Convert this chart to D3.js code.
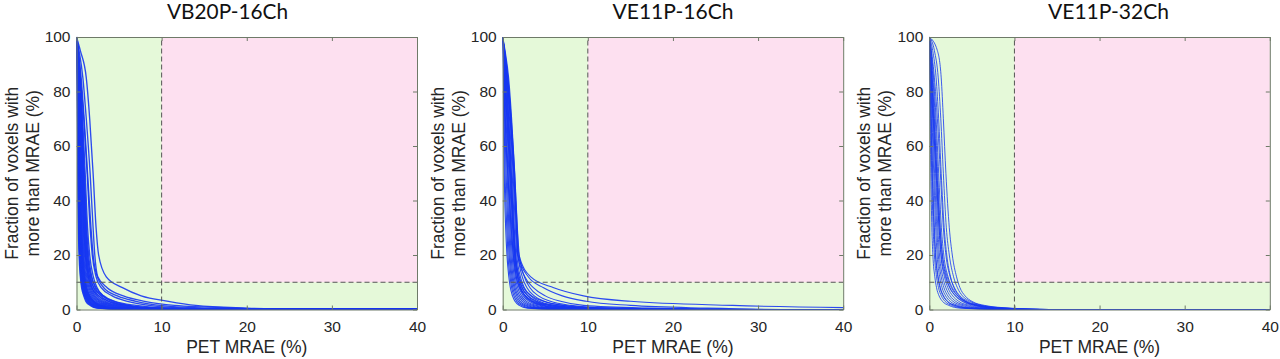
<!DOCTYPE html>
<html>
<head>
<meta charset="utf-8">
<script src="https://cdn.jsdelivr.net/npm/d3@7/dist/d3.min.js"></script>
<style>
  html, body { margin: 0; padding: 0; background: #ffffff; }
  svg { display: block; }
</style>
</head>
<body>
<svg id="chart" width="1280" height="359"></svg>
<script>
// ---------- DATA ----------
// Panel titles
const titles = ["VB20P-16Ch", "VE11P-16Ch", "VE11P-32Ch"];
// Axis ticks
const xTicks = [0, 10, 20, 30, 40];
const yTicks = [0, 20, 40, 60, 80, 100];
const xLabel = "PET MRAE (%)";
const yLabelLines = ["Fraction of voxels with", "more than MRAE (%)"];
// Threshold lines (MRAE 10 %, fraction 10 %)
const thresholdX = 10;
const thresholdY = 10;
// Fraction levels (%) at which each curve's MRAE (x) was read
const levels = [100, 95, 85, 70, 50, 30, 20, 12, 8, 5, 3, 1.5, 0.5, 0];

// MRAE (%) at each level, one row per subject curve
const curvesVB20P16 = [
  [0,0.03,0.06,0.10,0.15,0.22,0.30,0.45,0.60,0.85,1.10,1.60,2.4,6],
  [0,0.03,0.07,0.12,0.18,0.26,0.35,0.50,0.66,0.92,1.20,1.72,2.6,6.5],
  [0,0.04,0.08,0.13,0.20,0.28,0.38,0.55,0.72,0.98,1.30,1.85,2.8,7],
  [0,0.04,0.09,0.15,0.23,0.32,0.42,0.60,0.77,1.04,1.38,1.95,3.0,7.5],
  [0,0.05,0.10,0.16,0.25,0.35,0.46,0.65,0.82,1.10,1.45,2.05,3.1,8],
  [0,0.05,0.11,0.18,0.28,0.39,0.50,0.70,0.87,1.16,1.52,2.18,3.3,8.5],
  [0,0.06,0.12,0.20,0.30,0.42,0.54,0.74,0.92,1.22,1.60,2.30,3.5,9],
  [0,0.06,0.13,0.22,0.33,0.46,0.58,0.78,0.97,1.28,1.70,2.42,3.7,9.5],
  [0,0.07,0.14,0.24,0.36,0.50,0.62,0.82,1.02,1.35,1.80,2.55,3.9,10],
  [0,0.07,0.15,0.26,0.39,0.53,0.66,0.87,1.07,1.42,1.88,2.68,4.1,10.5],
  [0,0.08,0.17,0.28,0.42,0.57,0.70,0.92,1.12,1.48,1.95,2.80,4.3,11],
  [0,0.08,0.18,0.30,0.45,0.60,0.74,0.96,1.17,1.54,2.02,2.90,4.45,11.5],
  [0,0.09,0.20,0.32,0.48,0.64,0.78,1.00,1.22,1.60,2.10,3.00,4.6,12],
  [0,0.10,0.23,0.37,0.54,0.72,0.86,1.10,1.34,1.75,2.30,3.30,5.0,13],
  [0,0.12,0.26,0.42,0.60,0.80,0.95,1.20,1.46,1.90,2.50,3.60,5.5,14],
  [0,0.13,0.29,0.47,0.67,0.88,1.04,1.30,1.58,2.05,2.70,3.90,6.0,15],
  [0,0.15,0.32,0.52,0.74,0.96,1.12,1.40,1.70,2.20,2.90,4.20,6.5,16],
  [0,0.16,0.35,0.56,0.80,1.04,1.22,1.52,1.84,2.38,3.15,4.55,7.0,17],
  [0,0.18,0.38,0.61,0.87,1.12,1.32,1.65,2.00,2.60,3.40,4.90,7.6,18],
  [0,0.20,0.42,0.66,0.94,1.20,1.42,1.80,2.20,2.85,3.75,5.30,8.2,19],
  [0,0.22,0.46,0.72,1.02,1.30,1.55,1.98,2.42,3.15,4.10,5.80,9.0,20],
  [0,0.10,0.30,0.55,0.82,1.10,1.30,1.75,2.30,3.20,4.40,6.20,9.5,20],
  [0,0.05,0.15,0.30,0.55,0.85,1.05,1.40,1.80,2.60,3.80,5.80,9.0,18],
  [0,0.12,0.25,0.45,0.70,0.95,1.15,1.55,2.05,3.00,4.50,7.00,10.5,22],
  [0,0.15,0.45,0.85,1.25,1.60,1.85,2.30,2.90,4.20,6.00,8.50,13,20],
  [0,0.20,0.55,0.90,1.30,1.70,1.95,2.45,3.20,4.80,7.00,9.80,15,24],
  [0,0.30,0.75,1.15,1.60,1.95,2.15,2.50,3.60,5.50,8.00,11.5,19,26],
  [0,0.45,1.15,1.55,1.95,2.30,2.60,3.50,5.40,7.60,10.8,14.0,20,28]
];

const curvesVE11P16 = [
  [0,0.02,0.05,0.10,0.18,0.35,0.50,0.72,0.90,1.15,1.45,1.95,2.9,7],
  [0,0.03,0.08,0.16,0.28,0.48,0.62,0.86,1.05,1.32,1.65,2.25,3.4,8],
  [0,0.04,0.12,0.24,0.40,0.60,0.75,0.98,1.18,1.48,1.85,2.55,3.9,9],
  [0,0.05,0.16,0.32,0.52,0.72,0.86,1.10,1.32,1.65,2.05,2.85,4.4,11],
  [0,0.06,0.20,0.40,0.62,0.84,0.98,1.22,1.45,1.82,2.30,3.20,5.0,13],
  [0,0.08,0.25,0.48,0.72,0.95,1.10,1.35,1.60,2.00,2.55,3.60,5.6,15],
  [0,0.10,0.30,0.56,0.82,1.06,1.22,1.48,1.76,2.20,2.80,4.00,6.3,17],
  [0,0.12,0.36,0.64,0.92,1.16,1.32,1.60,1.92,2.42,3.10,4.45,7.0,19],
  [0,0.14,0.42,0.72,1.02,1.26,1.42,1.74,2.10,2.66,3.45,4.95,7.8,21],
  [0,0.17,0.48,0.80,1.12,1.36,1.54,1.90,2.30,2.95,3.85,5.50,8.6,23],
  [0,0.20,0.55,0.88,1.22,1.48,1.66,2.08,2.55,3.30,4.30,6.20,9.6,25],
  [0,0.24,0.62,0.96,1.32,1.60,1.80,2.30,2.85,3.70,4.90,7.00,10.8,27],
  [0,0.28,0.70,1.05,1.42,1.72,1.95,2.55,3.20,4.20,5.60,8.00,12.5,30],
  [0,0.08,0.22,0.50,0.85,1.20,1.40,1.80,2.25,3.00,4.00,6.00,9.5,24],
  [0,0.15,0.40,0.70,1.00,1.30,1.50,1.95,2.45,3.40,4.80,7.20,11.5,28],
  [0,0.05,0.12,0.28,0.60,1.00,1.25,1.60,2.00,2.70,3.60,5.40,8.5,20],
  [0,0.10,0.28,0.60,0.95,1.25,1.45,1.75,2.10,2.60,3.30,4.70,7.2,18],
  [0,0.18,0.50,0.90,1.30,1.60,1.75,2.60,3.60,5.00,6.80,9.50,17,30],
  [0,0.22,0.58,0.95,1.35,1.65,1.80,3.00,4.80,7.00,9.80,15.0,24,35],
  [0,0.20,0.60,1.00,1.40,1.70,1.90,3.30,6.00,9.50,15.0,27.0,45,60]
];

const curvesVE11P32 = [
  [0,0.02,0.05,0.10,0.18,0.30,0.42,0.65,0.85,1.15,1.55,2.30,3.6,8],
  [0,0.03,0.08,0.16,0.28,0.45,0.60,0.85,1.08,1.42,1.85,2.65,4.1,9],
  [0,0.05,0.12,0.24,0.40,0.60,0.76,1.04,1.30,1.68,2.15,3.00,4.6,10],
  [0,0.07,0.17,0.32,0.52,0.75,0.92,1.22,1.50,1.92,2.45,3.40,5.2,11],
  [0,0.09,0.22,0.40,0.62,0.88,1.06,1.40,1.72,2.18,2.78,3.85,5.8,12],
  [0,0.11,0.28,0.50,0.74,1.00,1.20,1.58,1.95,2.45,3.10,4.30,6.4,13],
  [0,0.14,0.35,0.60,0.86,1.14,1.36,1.78,2.18,2.75,3.45,4.75,7.0,13],
  [0,0.18,0.42,0.70,0.98,1.28,1.52,1.98,2.42,3.05,3.85,5.20,7.6,14],
  [0,0.22,0.50,0.80,1.10,1.42,1.70,2.20,2.70,3.35,4.20,5.60,8.2,14],
  [0,0.06,0.20,0.45,0.80,1.15,1.40,1.90,2.40,3.10,4.00,5.40,7.8,13],
  [0,0.10,0.30,0.55,0.90,1.25,1.55,2.10,2.60,3.30,4.20,5.80,8.6,14],
  [0,0.04,0.10,0.20,0.35,0.55,0.72,1.00,1.25,1.62,2.10,3.00,4.8,10],
  [0,0.25,0.60,0.95,1.30,1.65,1.95,2.45,2.95,3.60,4.50,6.00,8.8,14],
  [0,0.40,0.80,1.10,1.40,1.75,2.05,2.50,2.90,3.50,4.30,5.60,8.0,12],
  [0,0.60,1.05,1.35,1.65,2.00,2.35,2.85,3.30,3.90,4.80,6.20,9.0,13],
  [0,0.95,1.40,1.65,1.95,2.35,2.70,3.20,3.60,4.20,5.00,6.50,9.5,14]
];

const panelCurves = [curvesVB20P16, curvesVE11P16, curvesVE11P32];

// ---------- LAYOUT / STYLE ----------
const plotLefts = [76.5, 502.7, 929.3];
const plotW = 340.5;
const plotTop = 37, plotBottom = 309.5;
const titleCenters = [227.5, 673, 1108.5];
const lineWidths = [1.35, 1.1, 0.9];
const green = "#e5f9d9", pink = "#fde0f0";
const lineColor = "#1636f2";
const axisColor = "#6e7a68";
const textColor = "#262626";
const sans = "'Liberation Sans', Arial, sans-serif";

const svg = d3.select("#chart");
svg.append("rect").attr("width", 1280).attr("height", 359).attr("fill", "#ffffff");

panelCurves.forEach((curves, i) => {
  const left = plotLefts[i];
  const x = d3.scaleLinear().domain([0, 40]).range([left, left + plotW]);
  const y = d3.scaleLinear().domain([0, 100]).range([plotBottom, plotTop]);
  const g = svg.append("g");

  // background zones
  g.append("rect")
    .attr("x", x(0)).attr("y", y(100))
    .attr("width", x(40) - x(0)).attr("height", y(0) - y(100))
    .attr("fill", green);
  g.append("rect")
    .attr("x", x(thresholdX)).attr("y", y(100))
    .attr("width", x(40) - x(thresholdX)).attr("height", y(thresholdY) - y(100))
    .attr("fill", pink);

  // clip
  const clipId = "clip" + i;
  svg.append("clipPath").attr("id", clipId)
    .append("rect")
    .attr("x", x(0)).attr("y", y(100) - 1)
    .attr("width", x(40) - x(0)).attr("height", y(0) - y(100) + 1.5);

  const line = d3.line()
    .x(d => x(d[0]))
    .y(d => y(d[1]))
    .curve(d3.curveMonotoneX);

  const lg = g.append("g").attr("clip-path", `url(#${clipId})`);
  curves.forEach(c => {
    const pts = c.map((v, k) => [v, levels[k]]);
    const last = pts[pts.length - 1][0];
    if (last < 41) pts.push([41, 0]);
    lg.append("path")
      .attr("d", line(pts))
      .attr("fill", "none")
      .attr("stroke", lineColor)
      .attr("stroke-width", lineWidths[i])
      .attr("stroke-opacity", 0.9);
  });

  // dashed threshold lines
  g.append("line")
    .attr("x1", x(thresholdX)).attr("x2", x(thresholdX))
    .attr("y1", y(0)).attr("y2", y(100))
    .attr("stroke", "#555").attr("stroke-width", 1).attr("stroke-dasharray", "5,3");
  g.append("line")
    .attr("x1", x(0)).attr("x2", x(40))
    .attr("y1", y(thresholdY)).attr("y2", y(thresholdY))
    .attr("stroke", "#555").attr("stroke-width", 1).attr("stroke-dasharray", "5,3");

  // axes (MATLAB-style box with inward ticks)
  const axB = g.append("g").attr("transform", `translate(0,${plotBottom})`)
    .call(d3.axisBottom(x).tickValues(xTicks).tickSize(-4).tickSizeOuter(0).tickPadding(11).tickFormat(d3.format("d")));
  const axT = g.append("g").attr("transform", `translate(0,${plotTop})`)
    .call(d3.axisTop(x).tickValues(xTicks).tickSize(-4).tickSizeOuter(0).tickFormat(""));
  const axL = g.append("g").attr("transform", `translate(${left},0)`)
    .call(d3.axisLeft(y).tickValues(yTicks).tickSize(-4).tickSizeOuter(0).tickPadding(6).tickFormat(d3.format("d")));
  const axR = g.append("g").attr("transform", `translate(${left + plotW},0)`)
    .call(d3.axisRight(y).tickValues(yTicks).tickSize(-4).tickSizeOuter(0).tickFormat(""));
  [axB, axT, axL, axR].forEach(a => {
    a.select(".domain").attr("stroke", axisColor).attr("stroke-width", 1);
    a.selectAll(".tick line").attr("stroke", axisColor).attr("stroke-width", 1);
    a.selectAll(".tick text").attr("fill", textColor)
      .style("font-family", sans).style("font-size", "15.5px");
  });

  // title
  svg.append("text")
    .attr("x", titleCenters[i]).attr("y", 18.5)
    .attr("text-anchor", "middle")
    .attr("fill", "#111")
    .attr("textLength", 121)
    .attr("lengthAdjust", "spacingAndGlyphs")
    .style("font-family", "Lato, 'Open Sans', sans-serif")
    .style("font-size", "20.5px")
    .text(titles[i]);

  // x label
  svg.append("text")
    .attr("x", left + plotW / 2).attr("y", 353)
    .attr("text-anchor", "middle")
    .attr("fill", textColor)
    .style("font-family", sans).style("font-size", "17.5px")
    .text(xLabel);

  // y label (two lines)
  const cy = (plotTop + plotBottom) / 2;
  yLabelLines.forEach((t, k) => {
    const bx = left + (k === 0 ? -59 : -38);
    svg.append("text")
      .attr("transform", `translate(${bx},${cy}) rotate(-90)`)
      .attr("text-anchor", "middle")
      .attr("fill", textColor)
      .style("font-family", sans).style("font-size", "17.5px")
      .text(t);
  });
});
</script>
</body>
</html>
